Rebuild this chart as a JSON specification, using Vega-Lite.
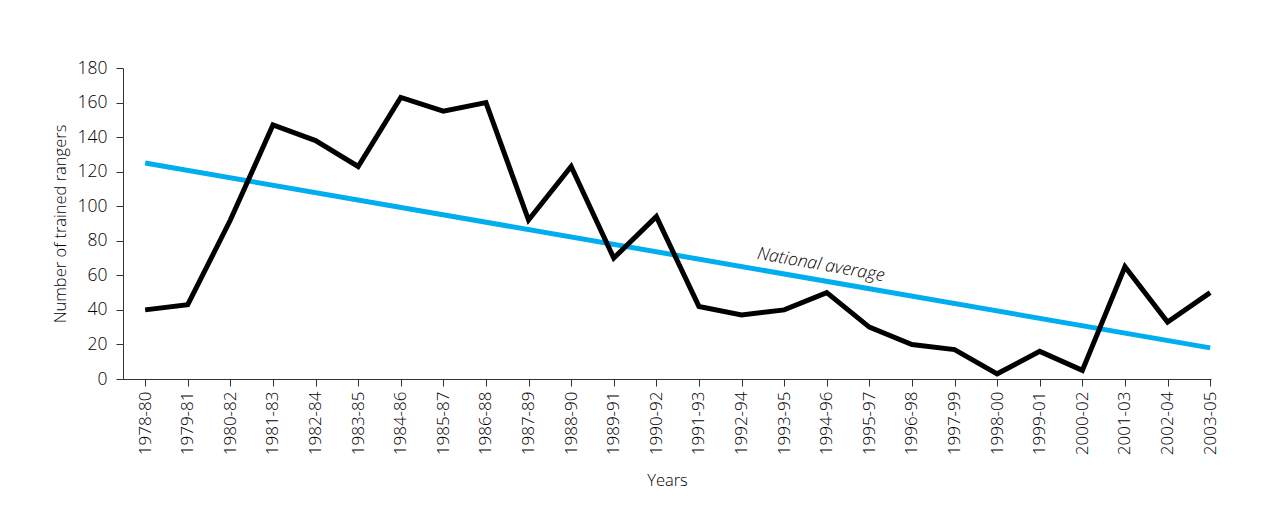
{
  "$schema": "https://vega.github.io/schema/vega-lite/v6.json",
  "autosize": {"type": "none"},
  "padding": {"left": 123, "top": 68, "right": 58, "bottom": 146},
  "width": 1088,
  "height": 311,
  "background": "white",
  "config": {
    "view": {"stroke": null},
    "font": "Open Sans",
    "axis": {
      "grid": false,
      "domainColor": "#333333",
      "tickColor": "#333333",
      "labelColor": "#000000",
      "titleColor": "#000000",
      "labelFont": "Open Sans",
      "titleFont": "Open Sans",
      "labelFontWeight": 300,
      "titleFontWeight": 300
    }
  },
  "datasets": {
    "rangers": [
      {"idx": 0, "period": "1978-80", "value": 40},
      {"idx": 1, "period": "1979-81", "value": 43},
      {"idx": 2, "period": "1980-82", "value": 92},
      {"idx": 3, "period": "1981-83", "value": 147},
      {"idx": 4, "period": "1982-84", "value": 138},
      {"idx": 5, "period": "1983-85", "value": 123},
      {"idx": 6, "period": "1984-86", "value": 163},
      {"idx": 7, "period": "1985-87", "value": 155},
      {"idx": 8, "period": "1986-88", "value": 160},
      {"idx": 9, "period": "1987-89", "value": 92},
      {"idx": 10, "period": "1988-90", "value": 123},
      {"idx": 11, "period": "1989-91", "value": 70},
      {"idx": 12, "period": "1990-92", "value": 94},
      {"idx": 13, "period": "1991-93", "value": 42},
      {"idx": 14, "period": "1992-94", "value": 37},
      {"idx": 15, "period": "1993-95", "value": 40},
      {"idx": 16, "period": "1994-96", "value": 50},
      {"idx": 17, "period": "1995-97", "value": 30},
      {"idx": 18, "period": "1996-98", "value": 20},
      {"idx": 19, "period": "1997-99", "value": 17},
      {"idx": 20, "period": "1998-00", "value": 3},
      {"idx": 21, "period": "1999-01", "value": 16},
      {"idx": 22, "period": "2000-02", "value": 5},
      {"idx": 23, "period": "2001-03", "value": 65},
      {"idx": 24, "period": "2002-04", "value": 33},
      {"idx": 25, "period": "2003-05", "value": 50}
    ],
    "national": [
      {"idx": 0, "value": 125},
      {"idx": 25, "value": 18}
    ],
    "label": [
      {"idx": 15.8, "value": 57.4, "text": "National average"}
    ]
  },
  "encoding": {
    "x": {
      "field": "idx",
      "type": "quantitative",
      "scale": {"domain": [-0.52, 25.02], "nice": false, "zero": false},
      "axis": {
        "title": "Years",
        "values": [0,1,2,3,4,5,6,7,8,9,10,11,12,13,14,15,16,17,18,19,20,21,22,23,24,25],
        "labelExpr": "['1978-80','1979-81','1980-82','1981-83','1982-84','1983-85','1984-86','1985-87','1986-88','1987-89','1988-90','1989-91','1990-92','1991-93','1992-94','1993-95','1994-96','1995-97','1996-98','1997-99','1998-00','1999-01','2000-02','2001-03','2002-04','2003-05'][datum.value]",
        "labelAngle": -90,
        "labelAlign": "right",
        "labelBaseline": "middle",
        "labelFontSize": 17,
        "labelPadding": 5,
        "tickSize": 7,
        "labelOverlap": false,
        "labelFlush": false,
        "titleFontSize": 16.5,
        "titlePadding": 18
      }
    },
    "y": {
      "field": "value",
      "type": "quantitative",
      "scale": {"domain": [0, 180], "nice": false, "zero": true},
      "axis": {
        "title": "Number of trained rangers",
        "values": [0,20,40,60,80,100,120,140,160,180],
        "labelOverlap": false,
        "labelFlush": false,
        "labelFontSize": 17.5,
        "labelPadding": 9,
        "tickSize": 7,
        "titleFontSize": 16.5,
        "titlePadding": 9
      }
    }
  },
  "layer": [
    {
      "data": {"name": "national"},
      "mark": {"type": "line", "color": "#00AEEF", "strokeWidth": 5}
    },
    {
      "data": {"name": "rangers"},
      "mark": {"type": "line", "color": "#000000", "strokeWidth": 5, "strokeJoin": "miter"}
    },
    {
      "data": {"name": "label"},
      "mark": {"type": "text", "angle": 10, "fontStyle": "italic", "fontSize": 17.5, "fontWeight": 300, "color": "#000000", "align": "center", "baseline": "middle", "dy": -15},
      "encoding": {
        "text": {"field": "text"}
      }
    }
  ]
}
